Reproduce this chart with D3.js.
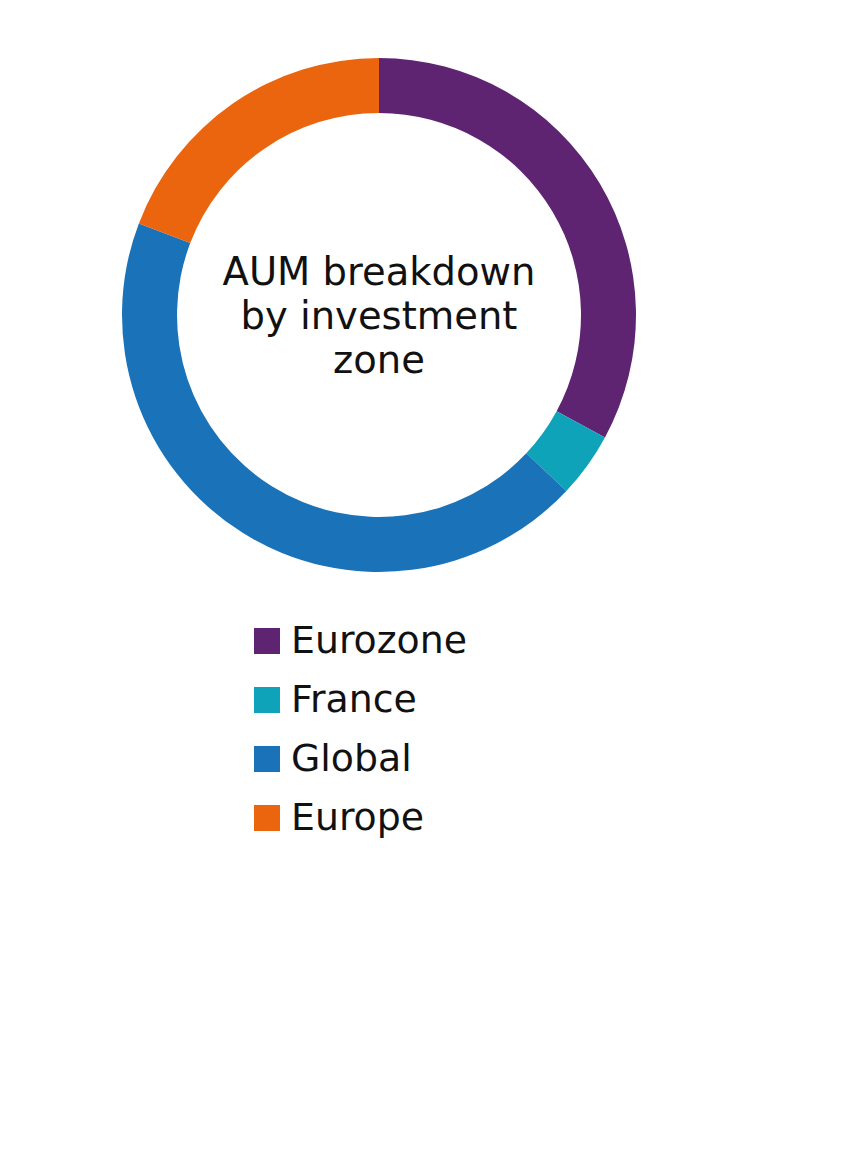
<!DOCTYPE html>
<html>
<head>
<meta charset="utf-8">
<script src="https://cdn.jsdelivr.net/npm/d3@7"></script>
<style>
  html, body { margin: 0; padding: 0; background: #fff; }
  svg { display: block; }
  text { font-family: "DejaVu Sans", "Noto Sans", sans-serif; fill: #111; }
</style>
</head>
<body>
<svg id="chart" width="859" height="1170"></svg>
<script>
const categories = ["Eurozone", "France", "Global", "Europe"];
const values = [32.9, 4.1, 43.8, 19.2];
const colors = ["#5E2472", "#0FA3BA", "#1A72B8", "#EB640E"];
const titleLines = ["AUM breakdown", "by investment", "zone"];

const svg = d3.select("#chart");
const cx = 379, cy = 315, outerR = 257, innerR = 202;

const data = categories.map((c, i) => ({ name: c, value: values[i], color: colors[i] }));
const pie = d3.pie().value(d => d.value).sort(null);
const arc = d3.arc().innerRadius(innerR).outerRadius(outerR);

const g = svg.append("g").attr("transform", `translate(${cx},${cy})`);
g.selectAll("path").data(pie(data)).join("path")
  .attr("d", arc)
  .attr("fill", d => d.data.color);

// center title
const title = g.append("text").attr("text-anchor", "middle").attr("font-size", 32);
titleLines.forEach((t, i) => {
  title.append("tspan").attr("x", 0).attr("y", -30 + i * 44).text(t);
});
// scale font so first line width ~313px
const w0 = title.select("tspan").node().getComputedTextLength();
title.attr("font-size", 32 * 313 / w0);

// legend
const legend = svg.append("g");
const items = legend.selectAll("g").data(data).join("g")
  .attr("transform", (d, i) => `translate(254, ${628 + i * 59})`);
items.append("rect").attr("width", 26).attr("height", 26).attr("fill", d => d.color);
const lt = items.append("text").attr("x", 37).attr("y", 25).attr("font-size", 32).text(d => d.name);
const lw = lt.nodes()[0].getComputedTextLength();
lt.attr("font-size", 32 * 176 / lw);
</script>
</body>
</html>
